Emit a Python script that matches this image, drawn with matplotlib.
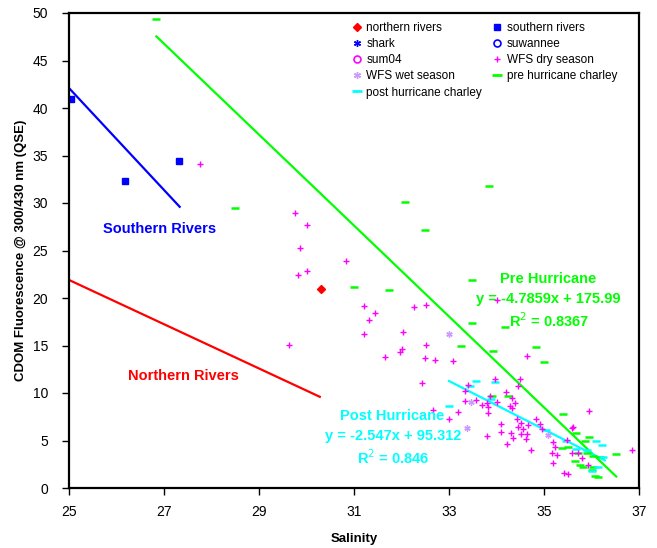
import numpy as np
import matplotlib
matplotlib.use('Agg')
import matplotlib.pyplot as plt
from matplotlib.lines import Line2D

plt.rcParams['font.family'] = ['Liberation Sans', 'DejaVu Sans']

# data
north_sal = [30.3]
north_val = [21.0]
south_sal = [25.05, 26.18, 27.32]
south_val = [40.9, 32.3, 34.4]

dry_sal = [27.76, 29.75, 30.01, 29.87, 30.84, 30.0, 29.83, 29.63,
           31.21, 31.44, 31.31, 31.21, 32.04, 32.26, 32.51, 32.51, 32.02, 34.01,
           31.96, 31.65, 32.5, 32.71, 33.08, 32.43, 33.4, 33.33, 34.21, 34.49, 34.45,
           33.33, 33.56, 33.7, 33.81, 33.82, 34.28, 34.33, 34.38, 32.67, 33.19, 33.01,
           34.64, 33.96, 34.33, 33.87, 33.82, 34.01, 35.94, 34.84, 34.43, 34.52, 34.66,
           34.1, 34.45, 34.56, 34.09, 34.3, 34.35, 34.52, 34.64, 34.63, 33.8, 34.91,
           34.95, 34.23, 34.73, 35.19, 35.23, 35.17, 35.27, 35.18, 35.58, 35.6, 35.49,
           35.58, 35.72, 35.79, 35.93, 35.42, 35.5, 36.85]
dry_val = [34.1, 29.0, 27.7, 25.3, 23.9, 22.8, 22.4, 15.1,
           19.2, 18.4, 17.7, 16.2, 16.4, 19.1, 19.3, 15.05, 14.6, 19.8,
           14.3, 13.8, 13.65, 13.5, 13.4, 11.1, 10.8, 10.25, 10.1, 11.5, 10.7,
           9.2, 9.3, 8.7, 8.9, 8.5, 8.6, 8.4, 8.9, 8.2, 8.0, 7.3,
           13.9, 11.5, 9.5, 9.7, 7.9, 9.1, 8.1, 7.3, 7.3, 6.8, 6.6,
           6.7, 6.45, 6.2, 5.85, 5.75, 5.3, 5.65, 5.65, 5.15, 5.5, 6.7,
           6.2, 4.6, 4.0, 4.8, 4.35, 3.65, 3.5, 2.6, 6.3, 6.45, 5.05,
           3.65, 3.65, 3.2, 2.4, 1.55, 1.45, 4.0]

wet_sal = [32.99, 33.47, 33.38, 35.08]
wet_val = [16.2, 9.1, 6.35, 5.6]

pre_sal = [26.84, 28.49, 33.84, 32.08, 32.5, 33.48, 31.01, 31.74, 33.48, 34.17,
           33.26, 34.84, 33.93, 34.99, 33.9, 34.24, 35.4, 35.68, 35.86, 35.94,
           35.5, 35.37, 35.72, 35.9, 36.03, 36.17, 36.52, 35.65, 35.75, 35.82,
           36.03, 36.0, 36.07, 36.14]
pre_val = [49.4, 29.5, 31.8, 30.1, 27.2, 21.9, 21.2, 20.8, 17.4, 16.9,
           14.95, 14.8, 14.4, 13.3, 9.7, 9.7, 7.8, 5.75, 4.95, 5.4,
           4.35, 4.2, 3.7, 3.65, 3.4, 3.3, 3.6, 2.8, 2.4, 2.25,
           2.25, 1.9, 1.3, 1.2]

post_sal = [33.56, 33.96, 33.44, 33.01, 33.89, 35.05, 35.47, 36.1, 36.23,
            35.68, 35.9, 36.25, 36.14, 36.0]
post_val = [11.3, 11.2, 10.7, 8.6, 9.4, 6.1, 4.9, 4.9, 4.5,
            4.1, 4.0, 3.3, 2.25, 1.8]

# trend lines
south_line_x = [25.0, 27.33]
south_line_y = [42.1, 29.6]
north_line_x = [25.0, 30.28]
north_line_y = [21.9, 9.6]
pre_fit = (-4.7859, 175.99)
pre_range = [26.84, 36.52]
post_fit = (-2.547, 95.312)
post_range = [33.0, 36.28]

GREEN = '#00ff00'
CYAN = '#00ffff'
MAG = '#ff00ff'
WET = '#cc99ff'
asterisk = (6, 2, 0)

fig = plt.figure(figsize=(6.57, 5.48), dpi=100)
ax = fig.add_axes([69 / 657, 60 / 548, 570 / 657, 475 / 548])

# fit lines
ax.plot(south_line_x, south_line_y, color='#0000ff', lw=1.6)
ax.plot(north_line_x, north_line_y, color='#ff0000', lw=1.6)
px = np.array(pre_range)
ax.plot(px, pre_fit[0] * px + pre_fit[1], color=GREEN, lw=1.6)
qx = np.array(post_range)
ax.plot(qx, post_fit[0] * qx + post_fit[1], color=CYAN, lw=1.6)

# scatter series
ax.plot(pre_sal, pre_val, ls='none', marker='_', color=GREEN, ms=6, mew=1.8)
ax.plot(post_sal, post_val, ls='none', marker='_', color=CYAN, ms=6, mew=1.8)
ax.plot(dry_sal, dry_val, ls='none', marker='+', color=MAG, ms=4.5, mew=1)
ax.plot(wet_sal, wet_val, ls='none', marker=asterisk, color=WET, ms=4.5, mew=1)
ax.plot(north_sal, north_val, ls='none', marker='D', color='#ff0000', ms=4)
ax.plot(south_sal, south_val, ls='none', marker='s', color='#0000ff', ms=4.5)

# labels on the chart
ax.text(26.9, 27.3, 'Southern Rivers', color='#0000ff', fontsize=10.5,
        fontweight='bold', ha='center', va='center')
ax.text(27.41, 11.8, 'Northern Rivers', color='#ff0000', fontsize=10.5,
        fontweight='bold', ha='center', va='center')
ax.text(35.09, 22.0, 'Pre Hurricane', color=GREEN, fontsize=10.5,
        fontweight='bold', ha='center', va='center')
ax.text(35.1, 19.9, 'y = -4.7859x + 175.99', color=GREEN, fontsize=10.5,
        fontweight='bold', ha='center', va='center')
ax.text(35.1, 17.6, 'R$^2$ = 0.8367', color=GREEN, fontsize=10.5,
        fontweight='bold', ha='center', va='center')
ax.text(31.81, 7.6, 'Post Hurricane', color=CYAN, fontsize=10.5,
        fontweight='bold', ha='center', va='center')
ax.text(31.83, 5.5, 'y = -2.547x + 95.312', color=CYAN, fontsize=10.5,
        fontweight='bold', ha='center', va='center')
ax.text(31.83, 3.2, 'R$^2$ = 0.846', color=CYAN, fontsize=10.5,
        fontweight='bold', ha='center', va='center')

ax.set_xlim(25, 37)
ax.set_ylim(0, 50)
ax.set_xticks(np.arange(25, 38, 2))
ax.set_yticks(np.arange(0, 51, 5))
ax.tick_params(direction='out', length=5, width=1, labelsize=10)
ax.tick_params(axis='x', pad=7)
ax.tick_params(axis='y', pad=10)
for s in ax.spines.values():
    s.set_linewidth(1.6)
ax.set_xlabel('Salinity', fontsize=9.5, fontweight='bold', labelpad=10)
ax.set_ylabel('CDOM Fluorescence @ 300/430 nm (QSE)', fontsize=9.5,
              fontweight='bold', labelpad=4)

# legend
handles = [
    Line2D([], [], ls='none', marker='D', color='#ff0000', ms=4),
    Line2D([], [], ls='none', marker=asterisk, color='#0000ff', ms=5, mew=1),
    Line2D([], [], ls='none', marker='o', mfc='none', mec=MAG, ms=5, mew=1.2),
    Line2D([], [], ls='none', marker=asterisk, color=WET, ms=5, mew=1),
    Line2D([], [], ls='none', marker='_', color=CYAN, ms=7, mew=2),
    Line2D([], [], ls='none', marker='s', color='#0000ff', ms=4),
    Line2D([], [], ls='none', marker='o', mfc='none', mec='#0000ff', ms=5, mew=1.2),
    Line2D([], [], ls='none', marker='+', color=MAG, ms=5, mew=1),
    Line2D([], [], ls='none', marker='_', color=GREEN, ms=7, mew=2),
]
labels = ['northern rivers', 'shark', 'sum04', 'WFS wet season',
          'post hurricane charley', 'southern rivers', 'suwannee',
          'WFS dry season', 'pre hurricane charley']
fig.legend(handles, labels, ncol=2, frameon=False, fontsize=8.5,
           loc='upper left', bbox_to_anchor=(352 / 657, 1 - 22 / 548),
           borderpad=0, borderaxespad=0, handlelength=0.8, handletextpad=0.4,
           columnspacing=0.9, labelspacing=0.35)

fig.savefig('out.png', dpi=100)
